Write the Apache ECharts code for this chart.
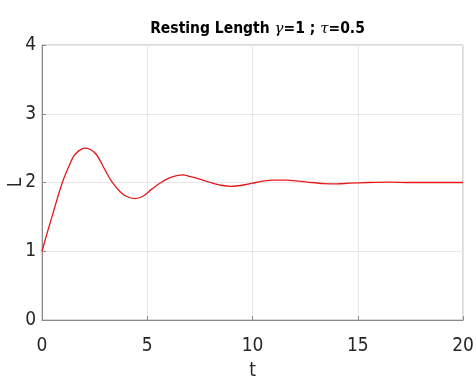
<!DOCTYPE html>
<html>
<head>
<meta charset="utf-8">
<script src="https://cdn.jsdelivr.net/npm/echarts@6/dist/echarts.min.js"></script>
<style>
  html, body { margin: 0; padding: 0; background: #fff; }
  #chart { width: 476px; height: 381px; }
</style>
</head>
<body>
<div id="chart"></div>
<script>
// Time samples (t) and resting length values (L)
const tValues = [0, 0.25, 0.5, 0.75, 1.0, 1.3, 1.5, 1.75, 2.0, 2.3, 2.6, 3.0, 3.3, 3.7, 4.0, 4.4, 4.8, 5.2, 5.6, 6.0, 6.4, 6.7, 7.0, 7.5, 8.0, 8.5, 9.0, 9.5, 10.0, 10.5, 11.0, 11.6, 12.2, 12.8, 13.4, 14.0, 14.6, 15.5, 16.5, 17.5, 18.5, 19.5, 20];
const lValues = [1.0, 1.27, 1.53, 1.79, 2.03, 2.25, 2.38, 2.46, 2.50, 2.48, 2.40, 2.18, 2.02, 1.87, 1.80, 1.765, 1.80, 1.90, 1.99, 2.06, 2.10, 2.11, 2.09, 2.05, 2.00, 1.96, 1.945, 1.96, 1.99, 2.02, 2.035, 2.035, 2.02, 2.00, 1.985, 1.98, 1.99, 2.0, 2.005, 2.0, 2.0, 2.0, 2.0];
const xTicks = [0, 5, 10, 15, 20];
const yTicks = [0, 1, 2, 3, 4];

const font = "'Liberation Sans Narrow', 'DejaVu Sans Condensed', 'Liberation Sans', Arial, sans-serif";
const chart = echarts.init(document.getElementById('chart'), null, { renderer: 'canvas' });

chart.setOption({
  animation: false,
  backgroundColor: '#ffffff',
  title: {
    text: 'Resting Length {i|γ}=1 ; {i|τ}=0.5',
    left: 252.5,
    textAlign: 'center',
    top: 16,
    textStyle: {
      fontFamily: font,
      fontWeight: 'bold',
      fontSize: 15.5,
      color: '#000',
      rich: {
        i: { fontFamily: "'DejaVu Serif', serif", fontStyle: 'italic', fontWeight: 'normal', fontSize: 15, color: '#000' }
      }
    }
  },
  grid: {
    left: 42, right: 13, top: 45, bottom: 61,
    outerBoundsMode: 'none',
    containLabel: false,
    show: true, borderColor: '#b5b5b5', borderWidth: 1
  },
  xAxis: {
    type: 'value',
    min: xTicks[0], max: xTicks[xTicks.length - 1], interval: 5,
    name: 't', nameLocation: 'middle', nameGap: 42, nameMoveOverlap: false,
    nameTextStyle: { fontFamily: font, fontSize: 19, color: '#262626' },
    axisLine: { show: true, lineStyle: { color: '#8a8a8a', width: 1 } },
    axisTick: { show: true, inside: true, length: 4, lineStyle: { color: '#8a8a8a' } },
    axisLabel: { fontFamily: font, fontSize: 19, color: '#262626', margin: 17 },
    splitLine: { show: true, lineStyle: { color: '#e6e6e6', width: 1 } }
  },
  yAxis: {
    type: 'value',
    min: yTicks[0], max: yTicks[yTicks.length - 1], interval: 1,
    name: 'L', nameLocation: 'middle', nameGap: 16, nameMoveOverlap: false,
    nameTextStyle: { fontFamily: font, fontSize: 19, color: '#262626' },
    axisLine: { show: true, lineStyle: { color: '#8a8a8a', width: 1 } },
    axisTick: { show: true, inside: true, length: 4, lineStyle: { color: '#8a8a8a' } },
    axisLabel: { fontFamily: font, fontSize: 19, color: '#262626', margin: 6 },
    splitLine: { show: true, lineStyle: { color: '#e6e6e6', width: 1 } }
  },
  series: [{
    type: 'line',
    data: tValues.map((t, i) => [t, lValues[i]]),
    smooth: 0.3,
    showSymbol: false,
    lineStyle: { color: '#e41a1c', width: 1.3 },
    z: 5
  }]
});
</script>
</body>
</html>
